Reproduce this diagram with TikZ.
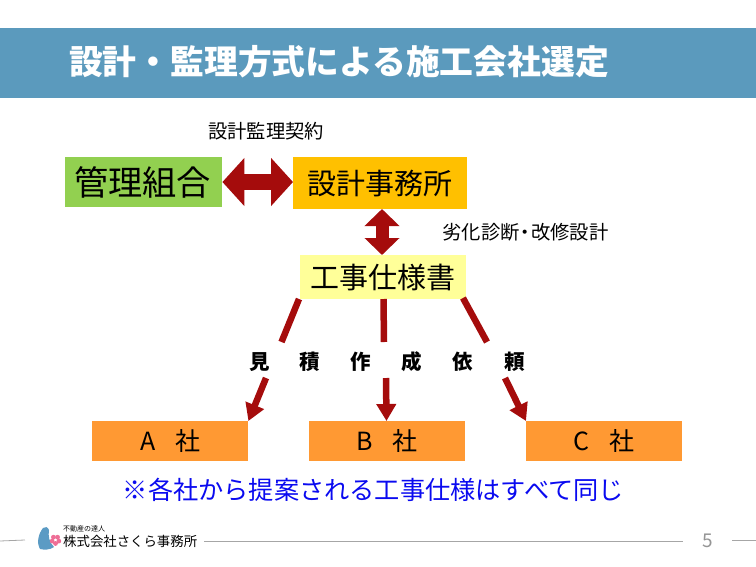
\documentclass[tikz,border=0pt]{standalone}
\usepackage{xcolor}
\usepackage{fontspec}
\setmainfont{Noto Sans CJK JP}
\usetikzlibrary{calc,arrows.meta}
\definecolor{band}{HTML}{5B9ABD}
\definecolor{kumiai}{HTML}{92D050}
\definecolor{jimusho}{HTML}{FFC000}
\definecolor{shiyo}{HTML}{FFFF99}
\definecolor{gaisha}{HTML}{FF9933}
\definecolor{darkred}{HTML}{A50C0C}
\definecolor{note}{HTML}{0A0AF0}
\definecolor{rule}{HTML}{A6A6A6}
\definecolor{bird}{HTML}{5B9BC4}
\definecolor{petal}{HTML}{EE6E96}
\newcommand{\px}[1]{\fontsize{#1}{#1}\selectfont}
\tikzset{
  boxnode/.style={inner sep=0pt, anchor=north west, text=black},
  wide/.style={draw=darkred, line width=16pt, {Triangle[length=22pt,width=47pt]}-{Triangle[length=22pt,width=47pt]}},
  tall/.style={draw=darkred, line width=13pt, {Triangle[length=17pt,width=34pt]}-{Triangle[length=17pt,width=34pt]}},
  bar/.style={draw=darkred, line width=6.5pt},
  tip/.style={draw=darkred, line width=6.5pt, -{Triangle[length=17pt,width=19pt]}},
  lab/.style={text=black, inner sep=0pt},
  footrule/.style={draw=rule, line width=0.8pt},
}
\begin{document}
\begin{tikzpicture}[x=1pt,y=-1pt]
  \useasboundingbox (0,0) rectangle (756,566);
  \fill[band] (0,28) rectangle (756,98);
  \node[lab,anchor=west,text=white] (title) at (69,62) {\px{33.8}\bfseries 設計・監理方式による施工会社選定};

  \node[boxnode,fill=kumiai,minimum width=157pt,minimum height=50pt] (kumiai) at (65,157) {};
  \node[lab] at (142.5,182) {\px{34.2}管理組合};
  \node[boxnode,fill=jimusho,minimum width=174pt,minimum height=52pt] (jimusho) at (293,157) {};
  \node[lab] at (jimusho) {\px{29}設計事務所};
  \node[boxnode,fill=shiyo,minimum width=166pt,minimum height=44pt] (shiyo) at (300,255) {};
  \node[lab] at (shiyo) {\px{29}工事仕様書};
  \node[boxnode,fill=gaisha,minimum width=156pt,minimum height=40pt] (a) at (92,421) {};
  \node[lab] at (a) {\px{25}A\hspace{20pt}社};
  \node[boxnode,fill=gaisha,minimum width=156pt,minimum height=40pt] (b) at (309,421) {};
  \node[lab] at (b) {\px{25}B\hspace{20pt}社};
  \node[boxnode,fill=gaisha,minimum width=156pt,minimum height=40pt] (c) at (526,421) {};
  \node[lab] at (c) {\px{25}C\hspace{20pt}社};

  \node[lab] (keiyaku) at (266,131) {\px{19.3}設計監理契約};
  \node[lab] (shindan) at (525.5,232) {\px{19.3}劣化診断\hspace{-4pt}・\hspace{-4pt}改修設計};
  \node[lab,text=note] (chui) at (373.5,490) {\px{25.2}※各社から提案される工事仕様はすべて同じ};

  \foreach \ch/\x/\n in {見/260/l1,積/310/l2,作/361/l3,成/412/l4,依/463/l5,頼/515/l6}
    \node[lab] (\n) at (\x,362) {\px{20.5}\bfseries\ch};

  \draw[wide] (kumiai.east |- 0,182) -- (jimusho.west |- 0,182);
  \draw[tall] (382,209) -- (382,255);

  \coordinate (s1) at (299,299);
  \coordinate (e1) at (281.5,342);
  \coordinate (r1) at (266,378);
  \coordinate (s2) at (383.5,299);
  \coordinate (e2) at (384,342);
  \coordinate (r2) at (386,378);
  \coordinate (s3) at (463,298);
  \coordinate (e3) at (487,342);
  \coordinate (r3) at (505,378);
  \draw[bar] (s1) -- (e1);
  \draw[bar] (s2) -- (e2);
  \draw[bar] (s3) -- (e3);
  \draw[tip] (r1) -- (a.north east);
  \draw[tip] (r2) -- (386.5,421);
  \draw[tip] (r3) -- (c.north west);

  \draw[footrule] (0,541) -- (25,540);
  \draw[footrule] (204,541) -- (683,541);
  \draw[footrule] (732,540.5) -- (756,540.5);
  \node[lab,text=rule!90!black] (page) at (708,541) {\px{19}5};

  \fill[bird] (40,549) .. controls (36,542) and (39,533) .. (43,528) .. controls (45,526) and (48,527) .. (49,530) .. controls (48,536) and (49,542) .. (54,547) .. controls (50,550) and (44,550) .. (40,549);
  \foreach \a in {18,90,...,306}
    \fill[petal] ($(55.5,540)+(\a:3.5)$) circle (2.4);
  \fill[white] (55.5,540) circle (0.9);
  \node[lab,anchor=west] (tatsujin) at (63,529) {\px{7}不動産の達人};
  \node[lab,anchor=west] (sakura) at (63,541.5) {\px{13.4}株式会社さくら事務所};
\end{tikzpicture}
\end{document}
